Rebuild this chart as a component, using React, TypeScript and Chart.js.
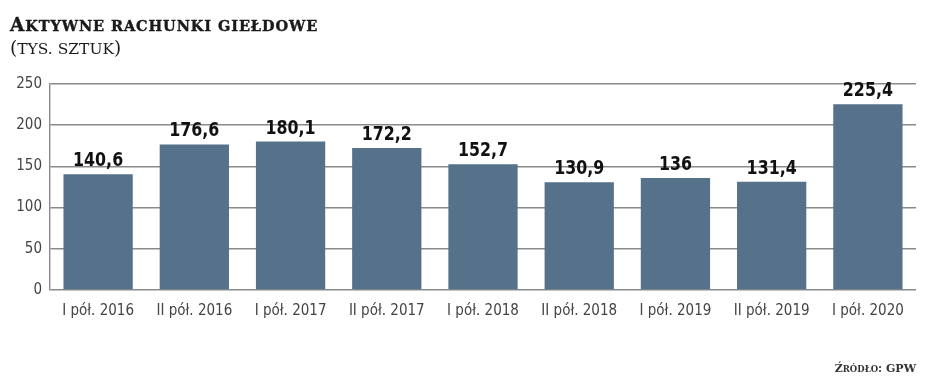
import React, { useEffect, useRef } from "react";
import { Chart, registerables } from "chart.js";

Chart.register(...registerables);

const categories = [
  "I pół. 2016",
  "II pół. 2016",
  "I pół. 2017",
  "II pół. 2017",
  "I pół. 2018",
  "II pół. 2018",
  "I pół. 2019",
  "II pół. 2019",
  "I pół. 2020",
];
const accounts = [140.6, 176.6, 180.1, 172.2, 152.7, 130.9, 136, 131.4, 225.4];
const valueLabels = ["140,6", "176,6", "180,1", "172,2", "152,7", "130,9", "136", "131,4", "225,4"];
const yTicks = [0, 50, 100, 150, 200, 250];

const BAR = "#56718a";
const GRID = "#8a8a8a";

const valueLabelPlugin = {
  id: "valueLabels",
  afterDatasetsDraw(chart: any) {
    const ctx = chart.ctx;
    const meta = chart.getDatasetMeta(0);
    meta.data.forEach((bar: any, i: number) => {
      ctx.save();
      ctx.font = "bold 20px 'DejaVu Sans Condensed', 'DejaVu Sans', sans-serif";
      ctx.fillStyle = "#111";
      ctx.textAlign = "center";
      ctx.textBaseline = "alphabetic";
      ctx.translate(bar.x, bar.y - 8);
      ctx.scale(0.88, 1);
      ctx.fillText(valueLabels[i], 0, 0);
      ctx.restore();
    });
  },
};

const serif = "'DejaVu Serif', serif";

export default function App() {
  const ref = useRef<HTMLCanvasElement>(null);
  useEffect(() => {
    if (!ref.current) return;
    const chart = new Chart(ref.current, {
      type: "bar",
      data: {
        labels: categories,
        datasets: [
          {
            data: accounts,
            backgroundColor: BAR,
            borderWidth: 0,
            categoryPercentage: 0.72,
            barPercentage: 1,
          },
        ],
      },
      options: {
        animation: false,
        responsive: false,
        maintainAspectRatio: false,
        layout: { padding: { left: 8, right: 32, top: 84, bottom: 56 } },
        plugins: { legend: { display: false }, tooltip: { enabled: false } },
        scales: {
          x: {
            grid: { display: false, drawTicks: false },
            border: { display: false },
            ticks: {
              padding: 12,
              color: "#444",
              font: { family: "'DejaVu Sans Condensed', 'DejaVu Sans', sans-serif", size: 15 },
              maxRotation: 0,
              autoSkip: false,
            },
            afterFit: (s: any) => {
              s.height = 40;
            },
          },
          y: {
            min: 0,
            max: 250,
            afterBuildTicks: (s: any) => {
              s.ticks = yTicks.map((v) => ({ value: v }));
            },
            grid: { color: GRID, lineWidth: 1.4, drawTicks: false },
            border: { display: true, color: GRID, width: 1.4 },
            ticks: {
              padding: 8,
              color: "#444",
              font: { family: "'DejaVu Sans Condensed', 'DejaVu Sans', sans-serif", size: 15 },
            },
            afterFit: (s: any) => {
              s.width = 42;
            },
          },
        },
      },
      plugins: [valueLabelPlugin],
    });
    return () => chart.destroy();
  }, []);

  return (
    <div style={{ position: "absolute", left: 0, top: 0, width: 948, height: 386, background: "#fff", overflow: "hidden" }}>
      <canvas ref={ref} width={948} height={386} style={{ position: "absolute", left: 0, top: 0 }} />
      <div
        style={{
          position: "absolute",
          left: 10,
          top: 14,
          fontFamily: serif,
          fontWeight: "bold",
          color: "#1a1a1a",
          lineHeight: "22px",
          whiteSpace: "nowrap",
          letterSpacing: "0.9px",
          WebkitTextStroke: "0.4px #1a1a1a",
        }}
      >
        <span style={{ fontSize: 18.5 }}>A</span>
        <span style={{ fontSize: 14.5 }}>KTYWNE RACHUNKI GIEŁDOWE</span>
      </div>
      <div
        style={{
          position: "absolute",
          left: 10,
          top: 37,
          fontFamily: serif,
          fontSize: 15.5,
          color: "#1a1a1a",
          lineHeight: "22px",
          whiteSpace: "nowrap",
        }}
      >
        <span style={{ fontSize: 18.5 }}>(</span>TYS. SZTUK<span style={{ fontSize: 18.5 }}>)</span>
      </div>
      <div
        style={{
          position: "absolute",
          right: 32,
          top: 359,
          fontFamily: serif,
          fontWeight: "bold",
          color: "#333",
          lineHeight: "16px",
          whiteSpace: "nowrap",
        }}
      >
        <span style={{ fontSize: 11 }}>Ź</span>
        <span style={{ fontSize: 8.5 }}>RÓDŁO</span>
        <span style={{ fontSize: 11 }}>: GPW</span>
      </div>
    </div>
  );
}
